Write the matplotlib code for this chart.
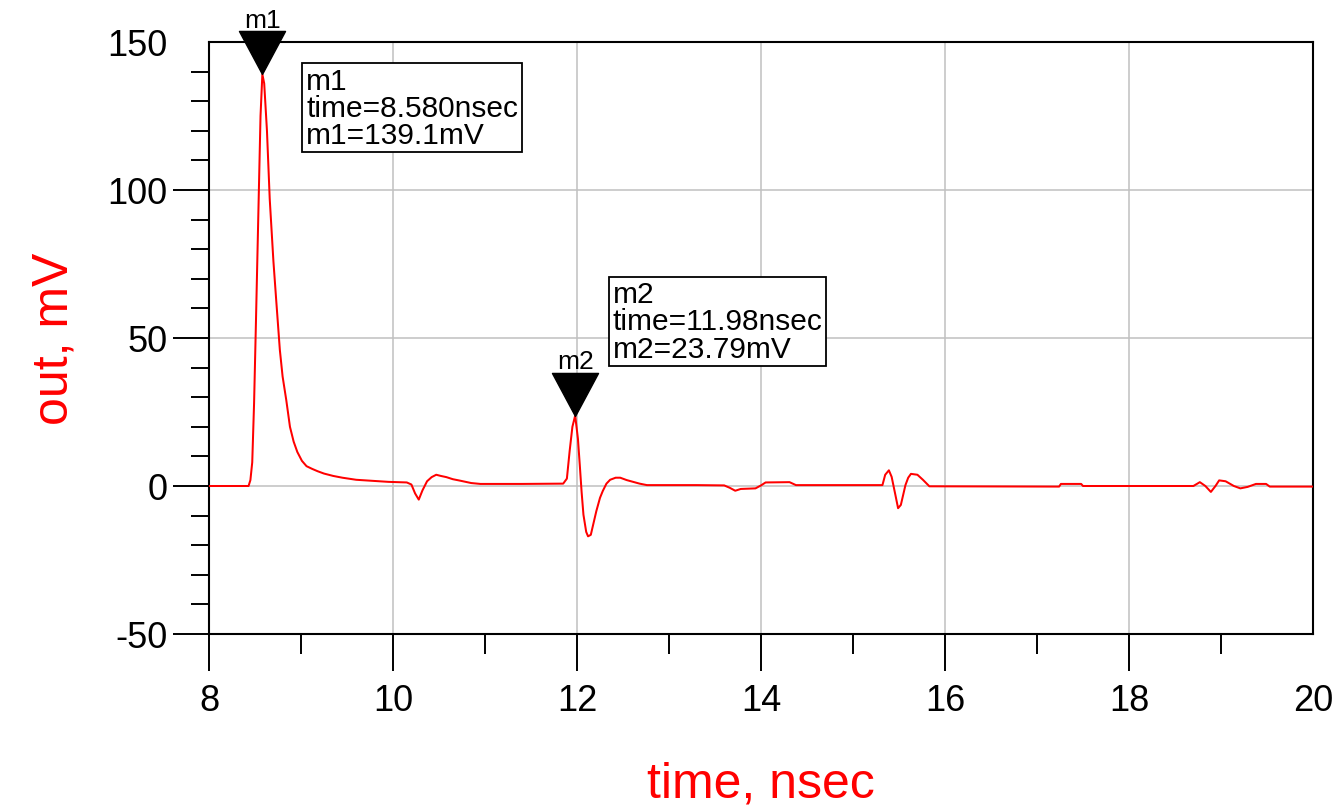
#!/usr/bin/env python3
"""Transient response at the output node with two peak markers (m1, m2)."""

import matplotlib
matplotlib.use("Agg")
import matplotlib.pyplot as plt
from matplotlib.ticker import MultipleLocator

plt.rcParams["font.family"] = ["Liberation Sans", "DejaVu Sans"]

# time (nsec) and output voltage (mV) of the trace
TIME_NS = [8.00, 8.43, 8.45, 8.47, 8.49, 8.51, 8.54, 8.56, 8.58, 8.60,
           8.63, 8.66, 8.70, 8.73, 8.77, 8.80, 8.84, 8.88, 8.92, 8.96,
           9.01, 9.06, 9.12, 9.18, 9.25, 9.35, 9.45, 9.60, 9.80, 9.95,
           10.15, 10.20, 10.24, 10.28, 10.32, 10.37, 10.42, 10.47, 10.52, 10.58,
           10.65, 10.73, 10.85, 10.95, 11.40, 11.85, 11.89, 11.92, 11.95, 11.98,
           12.01, 12.03, 12.05, 12.07, 12.10, 12.12, 12.15, 12.18, 12.21, 12.25,
           12.28, 12.32, 12.36, 12.42, 12.47, 12.54, 12.61, 12.68, 12.76, 13.30,
           13.60, 13.66, 13.72, 13.78, 13.94, 14.00, 14.05, 14.31, 14.38, 15.32,
           15.35, 15.39, 15.42, 15.46, 15.49, 15.52, 15.57, 15.60, 15.63, 15.70,
           15.76, 15.83, 17.24, 17.26, 17.48, 17.50, 18.70, 18.77, 18.83, 18.89,
           18.94, 18.98, 19.05, 19.14, 19.21, 19.29, 19.38, 19.49, 19.53, 20.00]
OUT_MV = [0.0, 0.0, 2.0, 8.0, 28.0, 55.0, 97.0, 125.0, 139.1, 136.0,
          120.0, 97.0, 76.0, 63.0, 46.0, 37.0, 29.0, 20.0, 15.0, 11.5,
          8.5, 6.7, 5.8, 5.0, 4.2, 3.4, 2.8, 2.1, 1.7, 1.4,
          1.2, 0.5, -2.5, -4.6, -1.5, 1.6, 3.0, 3.8, 3.4, 3.0,
          2.3, 1.8, 1.0, 0.7, 0.7, 0.8, 2.5, 11.8, 20.0, 23.79,
          16.0, 7.2, -2.0, -9.7, -15.5, -17.0, -16.5, -12.5, -8.5, -4.0,
          -1.7, 0.8, 2.1, 2.8, 2.8, 2.0, 1.4, 0.8, 0.3, 0.3,
          0.2, -0.6, -1.6, -1.0, -0.8, 0.2, 1.2, 1.3, 0.3, 0.3,
          3.8, 5.3, 3.1, -2.9, -7.5, -6.4, 0.3, 2.8, 4.1, 3.8,
          2.1, -0.1, -0.2, 0.7, 0.7, 0.0, 0.0, 1.3, 0.0, -2.0,
          0.0, 1.9, 1.6, 0.0, -0.8, -0.3, 0.7, 0.7, -0.2, -0.2]

# markers: name, time (nsec), value (mV)
MARKER_NAMES = ["m1", "m2"]
MARKER_TIME_NS = [8.580, 11.98]
MARKER_MV = [139.1, 23.79]
MARKER_TIME_FMT = ["{:.3f}", "{:.2f}"]
MARKER_MV_FMT = ["{:.1f}", "{:.2f}"]
# upper-left corner of each readout text, data coords
READOUT_POS = [(9.055, 141.7), (12.39, 69.5)]

RED = "#ff0000"
GRID = "#c0c0c0"

# downward triangle with its tip at the marked point
TRI = [(0, 0), (-0.535, 1), (0.535, 1), (0, 0)]


def main() -> int:
    fig = plt.figure(figsize=(13.39, 8.12), dpi=100)
    ax = fig.add_axes([209 / 1339, 1 - 635 / 812, 1104 / 1339, 592 / 812])

    ax.plot(TIME_NS, OUT_MV, color=RED, lw=1.45, zorder=3)

    ax.set_xlim(8, 20)
    ax.set_ylim(-50, 150)
    ax.xaxis.set_major_locator(MultipleLocator(2))
    ax.xaxis.set_minor_locator(MultipleLocator(1))
    ax.yaxis.set_major_locator(MultipleLocator(50))
    ax.yaxis.set_minor_locator(MultipleLocator(10))
    ax.grid(True, which="major", color=GRID, lw=1.1, zorder=1)

    for sp in ax.spines.values():
        sp.set_linewidth(1.5)
    ax.tick_params(axis="x", which="major", length=26.5, width=1.4,
                   labelsize=26, pad=9, direction="out")
    ax.tick_params(axis="x", which="minor", length=14.5, width=1.4, direction="out")
    ax.tick_params(axis="y", which="major", length=26, width=1.4,
                   labelsize=26, pad=4, direction="out")
    ax.tick_params(axis="y", which="minor", length=13, width=1.4, direction="out")
    ax.set_xticklabels([str(int(v)) for v in ax.get_xticks()])
    ax.set_yticklabels([str(int(v)) for v in ax.get_yticks()])

    # no tick marks at the top-right extremes
    fig.canvas.draw()
    for t in ax.xaxis.get_major_ticks():
        if abs(t.get_loc() - 20) < 1e-9:
            t.tick1line.set_visible(False)
    for t in ax.yaxis.get_major_ticks():
        if abs(t.get_loc() - 150) < 1e-9:
            t.tick1line.set_visible(False)

    for name, tm, mv, tfmt, vfmt, pos in zip(MARKER_NAMES, MARKER_TIME_NS, MARKER_MV,
                                            MARKER_TIME_FMT, MARKER_MV_FMT, READOUT_POS):
        ax.plot([tm], [mv], marker=TRI, ms=62, color="black", mec="black",
                lw=0, clip_on=False, zorder=5)
        ax.annotate(name, xy=(tm, mv), xytext=(0, 30.5), textcoords="offset points",
                    ha="center", va="bottom", fontsize=19, zorder=4,
                    annotation_clip=False)
        txt = f"{name}\ntime={tfmt.format(tm)}nsec\n{name}={vfmt.format(mv)}mV"
        ax.text(pos[0], pos[1], txt, ha="left", va="top", fontsize=21.5,
                linespacing=0.96, zorder=6,
                bbox=dict(boxstyle="square,pad=0.12", fc="white", ec="black", lw=1.3))

    fig.text(761 / 1339, 1 - 785 / 812, "time, nsec", color=RED, fontsize=36,
             ha="center", va="center")
    fig.text(55 / 1339, 1 - 339 / 812, "out, mV", color=RED, fontsize=36,
             ha="center", va="center", rotation=90)

    fig.savefig("out.png", dpi=100)
    plt.close(fig)
    return 0


if __name__ == "__main__":
    raise SystemExit(main())
